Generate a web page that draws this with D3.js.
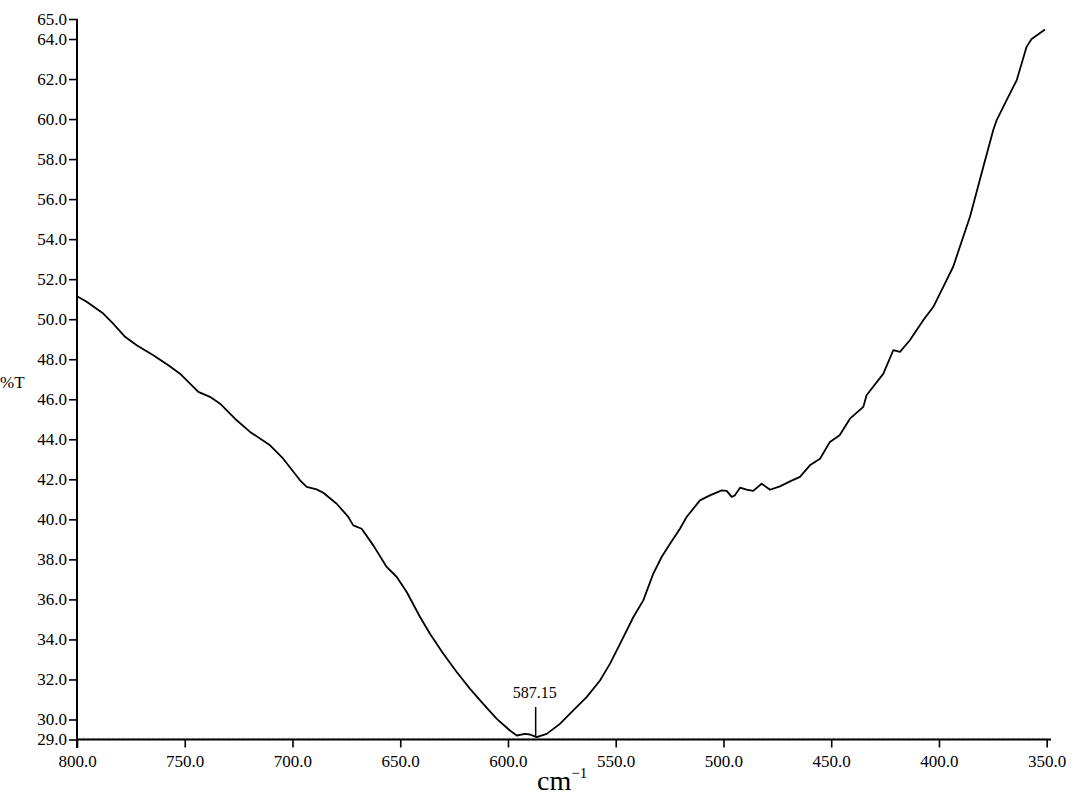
<!DOCTYPE html>
<html>
<head>
<meta charset="utf-8">
<script src="https://cdn.jsdelivr.net/npm/d3@7"></script>
<style>
html,body{margin:0;padding:0;background:#fff;}
svg{display:block;}
svg text{font-family:"Liberation Serif","Times New Roman",serif !important;fill:#000;}
</style>
</head>
<body>
<svg id="chart" width="1088" height="801"></svg>
<script>
// Spectrum data
const wavenumber = [800,795.5,787.8,783.2,777.7,772.3,764.6,757.6,752.2,743.7,738.3,733.6,725.9,719.7,710.4,704.3,696.5,693.4,688.8,685.7,679.5,674.1,671.8,667.9,662.5,656.3,651.6,647.0,640.8,636.2,630.0,623.8,617.6,611.5,605.2,599.1,595.9,592.1,589.8,586.7,582.0,575.9,569.7,563.5,557.3,552.7,548.0,541.8,537.2,532.6,528.7,524.8,520.2,517.1,510.9,506.3,500.8,498.5,496.2,494.7,492.3,489.3,486.2,482.3,478.4,473.8,469.1,464.5,459.9,455.2,450.6,446.1,441.3,435.1,433.6,425.8,421.2,418.1,413.5,407.3,402.6,398.0,393.4,390.3,385.6,379.4,374.8,373.2,368.6,363.9,359.3,357.0,350.8];
const transmittance = [51.15,50.87,50.28,49.78,49.12,48.7,48.2,47.7,47.28,46.37,46.12,45.78,44.95,44.37,43.7,43.03,41.95,41.62,41.5,41.33,40.78,40.12,39.7,39.53,38.7,37.62,37.12,36.37,35.12,34.28,33.28,32.37,31.53,30.78,30.03,29.45,29.2,29.28,29.25,29.12,29.28,29.78,30.45,31.12,31.95,32.78,33.78,35.12,35.95,37.28,38.12,38.78,39.53,40.12,40.95,41.2,41.45,41.42,41.12,41.2,41.58,41.48,41.42,41.78,41.48,41.65,41.9,42.12,42.7,43.03,43.87,44.2,45.03,45.62,46.2,47.28,48.45,48.37,48.95,49.95,50.62,51.62,52.62,53.62,55.12,57.62,59.45,59.95,60.95,61.95,63.62,64.0,64.48];
const baselineWave = [800,350];
const baselineT = [29.06,29.06];
const yTicks = [65,64,62,60,58,56,54,52,50,48,46,44,42,40,38,36,34,32,30,29];
const xTicks = [800,750,700,650,600,550,500,450,400,350];
const peakLabel = "587.15";
const peakWave = 587.15;
const peakT = 29.12;

const svg = d3.select("#chart");
const x = d3.scaleLinear().domain([800,350]).range([77,1046.7]);
const y = d3.scaleLinear().domain([29,65]).range([739.5,19]);

// baseline faint trace
svg.append("path")
  .datum(baselineWave.map((w,i)=>[w,baselineT[i]]))
  .attr("d", d3.line().x(d=>x(d[0])).y(d=>y(d[1])))
  .attr("fill","none").attr("stroke","#c8c8c8").attr("stroke-width",1).attr("stroke-dasharray","3,2");

// Y axis
const yAxis = svg.append("g").attr("transform","translate(77,0)")
  .call(d3.axisLeft(y).tickValues(yTicks).tickFormat(d3.format(".1f")).tickSize(8).tickPadding(2));
yAxis.select(".domain").remove();
yAxis.append("line").attr("x1",0).attr("x2",0).attr("y1",y(65)).attr("y2",748).attr("stroke","#000").attr("stroke-width",2);
yAxis.selectAll(".tick line").attr("stroke","#000").attr("stroke-width",1.6);
yAxis.selectAll("text").style("font-size","17px");

// X axis
const xAxis = svg.append("g").attr("transform",`translate(0,${y(29)})`)
  .call(d3.axisBottom(x).tickValues(xTicks).tickFormat(d3.format(".1f")).tickSize(8).tickPadding(7));
xAxis.select(".domain").remove();
xAxis.append("line").attr("x1",77).attr("x2",1051).attr("y1",0).attr("y2",0).attr("stroke","#000").attr("stroke-width",2);
xAxis.selectAll(".tick line").attr("stroke","#000").attr("stroke-width",1.6);
xAxis.selectAll("text").style("font-size","17px");

// Spectrum line
svg.append("path")
  .datum(wavenumber.map((w,i)=>[w,transmittance[i]]))
  .attr("d", d3.line().x(d=>x(d[0])).y(d=>y(d[1])))
  .attr("fill","none").attr("stroke","#000").attr("stroke-width",1.8).attr("stroke-linejoin","round");

// Peak annotation
svg.append("line").attr("x1",x(peakWave)).attr("x2",x(peakWave))
  .attr("y1",y(peakT)-30).attr("y2",y(peakT)).attr("stroke","#000").attr("stroke-width",1.5);
svg.append("text").attr("x",x(peakWave)-1).attr("y",y(peakT)-39)
  .attr("text-anchor","middle").style("font-size","16px").text(peakLabel);

// Axis titles
svg.append("text").attr("x",0).attr("y",388).style("font-size","17px").text("%T");
const t = svg.append("text").attr("x",537).attr("y",790).style("font-size","28px");
t.append("tspan").text("cm");
t.append("tspan").attr("dy",-12).style("font-size","15px").text("\u22121");
</script>
</body>
</html>
